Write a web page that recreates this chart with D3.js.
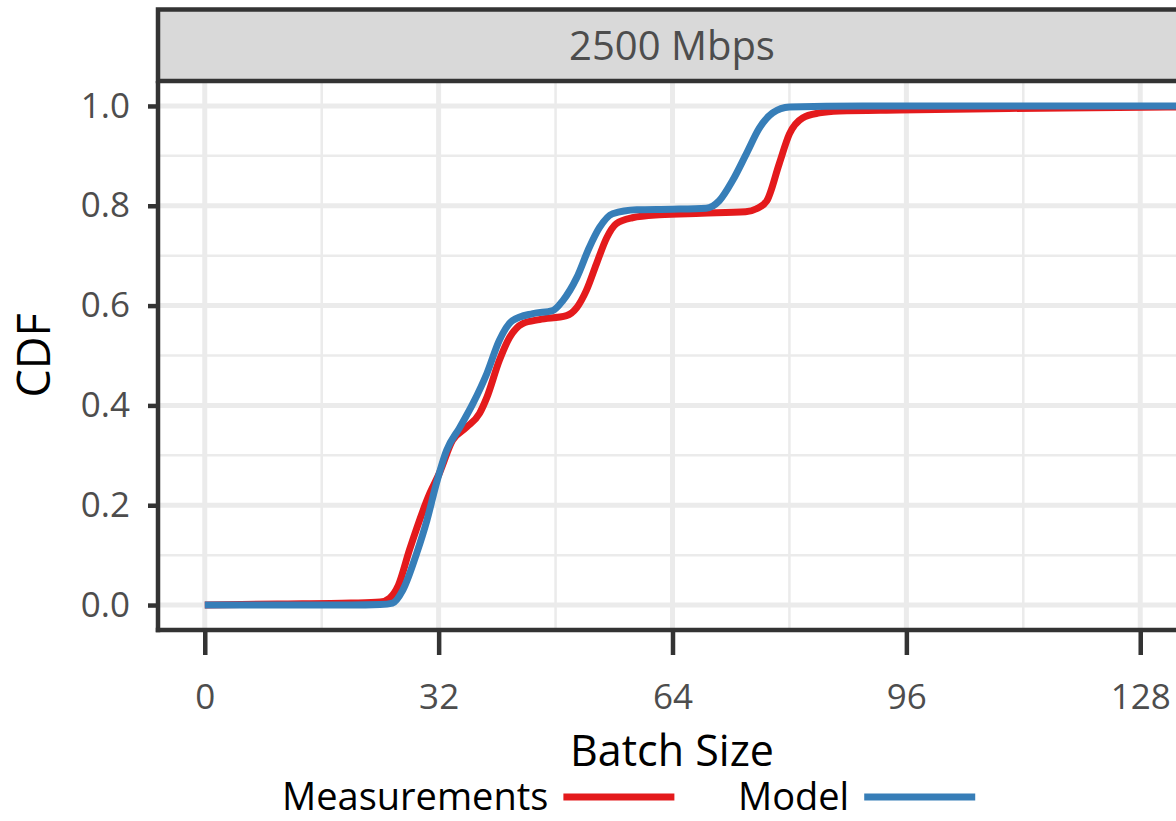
<!DOCTYPE html>
<html>

<head>
  <title>CDF batch size</title>
  <script src="https://cdn.jsdelivr.net/npm/d3@7"></script>
  <style type="text/css">
    body {
      margin: 0;
      background: white;
    }

    text {
      font-family: "Open Sans", "Noto Sans", sans-serif;
    }
  </style>
</head>

<body>
  <div id="chartArea"></div>
  <script type="text/javascript">
    // values
    let measX = [0, 10, 20, 24, 25.3, 26.5, 28, 30.8, 32.1, 33.9, 35.8, 37.6, 38.6, 40.3, 41.7, 43.5, 45.8, 49.5, 50.9, 52.2, 53.6, 55, 56.3, 58.5, 62.2, 68, 74, 75.5, 76.9, 78.6, 80, 81.8, 84.1, 86.8, 95, 110, 125, 134.4];
    let measY = [0, 0.002, 0.004, 0.006, 0.014, 0.04, 0.11, 0.224, 0.264, 0.33, 0.356, 0.384, 0.416, 0.49, 0.536, 0.564, 0.572, 0.58, 0.596, 0.63, 0.684, 0.736, 0.764, 0.776, 0.782, 0.785, 0.788, 0.794, 0.81, 0.884, 0.944, 0.976, 0.986, 0.99, 0.992, 0.995, 0.997, 0.998];

    let modelX = [0, 10, 20, 24, 25.7, 27.1, 29, 30.4, 31.7, 33.1, 34.9, 36.7, 38.6, 40.3, 42.1, 44.9, 47.6, 49, 50.9, 52.6, 54, 55.8, 59.1, 64, 68.6, 70.4, 72.2, 74.1, 75.9, 77.7, 80, 90, 110, 134.4];
    let modelY = [0, 0, 0, 0.001, 0.004, 0.03, 0.104, 0.17, 0.244, 0.31, 0.356, 0.404, 0.464, 0.53, 0.57, 0.584, 0.59, 0.61, 0.656, 0.716, 0.756, 0.784, 0.792, 0.793, 0.795, 0.81, 0.85, 0.904, 0.956, 0.986, 0.998, 1, 1, 1];

    let xTicks = [0, 32, 64, 96, 128];
    let xMinor = [16, 48, 80, 112];
    let yTicks = [0, 0.2, 0.4, 0.6, 0.8, 1.0];
    let yMinor = [0.1, 0.3, 0.5, 0.7, 0.9];

    let seriesNames = ['Measurements', 'Model'];
    let seriesColors = ['#e41a1c', '#377eb8'];
    let stripLabel = '2500 Mbps';

    let W = 1176, H = 821;
    let panel = { left: 158, right: 1187, top: 81, bottom: 630 };

    let xScale = d3.scaleLinear()
      .domain([-6.4, 134.4])
      .range([panel.left, panel.right]);

    let yScale = d3.scaleLinear()
      .domain([-0.05, 1.05])
      .range([panel.bottom, panel.top]);

    let svg = d3.select('#chartArea').append('svg')
      .attr('width', W)
      .attr('height', H);

    // grid
    let grid = svg.append('g');
    grid.selectAll('.vminor').data(xMinor).enter().append('line')
      .attr('x1', d => xScale(d)).attr('x2', d => xScale(d))
      .attr('y1', panel.top).attr('y2', panel.bottom)
      .attr('stroke', '#ebebeb').attr('stroke-width', 2.5);
    grid.selectAll('.hminor').data(yMinor).enter().append('line')
      .attr('y1', d => yScale(d)).attr('y2', d => yScale(d))
      .attr('x1', panel.left).attr('x2', panel.right)
      .attr('stroke', '#ebebeb').attr('stroke-width', 2.5);
    grid.selectAll('.vmajor').data(xTicks).enter().append('line')
      .attr('x1', d => xScale(d)).attr('x2', d => xScale(d))
      .attr('y1', panel.top).attr('y2', panel.bottom)
      .attr('stroke', '#ebebeb').attr('stroke-width', 5);
    grid.selectAll('.hmajor').data(yTicks).enter().append('line')
      .attr('y1', d => yScale(d)).attr('y2', d => yScale(d))
      .attr('x1', panel.left).attr('x2', panel.right)
      .attr('stroke', '#ebebeb').attr('stroke-width', 5);

    // curves
    let line = d3.line()
      .x(d => xScale(d[0]))
      .y(d => yScale(d[1]))
      .curve(d3.curveMonotoneX);

    let series = [
      d3.zip(measX, measY),
      d3.zip(modelX, modelY)
    ];

    svg.selectAll('.curve')
      .data(series)
      .enter()
      .append('path')
      .attr('d', line)
      .attr('fill', 'none')
      .attr('stroke', (d, i) => seriesColors[i])
      .attr('stroke-width', 7)
      .attr('stroke-linejoin', 'round');

    // strip
    svg.append('rect')
      .attr('x', panel.left).attr('y', 9.5)
      .attr('width', panel.right - panel.left + 20).attr('height', panel.top - 9.5)
      .attr('fill', '#d9d9d9')
      .attr('stroke', '#333333').attr('stroke-width', 4.5);
    svg.append('text')
      .attr('x', 672)
      .attr('y', 46)
      .attr('dy', '0.35em')
      .attr('text-anchor', 'middle')
      .attr('fill', '#4d4d4d')
      .style('font-size', '40px')
      .text(stripLabel);

    // axes
    let xAxis = d3.axisBottom(xScale).tickValues(xTicks).tickSize(25).tickPadding(42).tickSizeOuter(0);
    let gx = svg.append('g')
      .attr('transform', `translate(0, ${panel.bottom})`)
      .call(xAxis);
    let yAxis = d3.axisLeft(yScale).tickValues(yTicks).tickSize(10).tickPadding(18)
      .tickFormat(d3.format('.1f')).tickSizeOuter(0);
    let gy = svg.append('g')
      .attr('transform', `translate(${panel.left}, 0)`)
      .call(yAxis);

    [gx, gy].forEach(g => {
      g.select('.domain').remove();
      g.selectAll('line').attr('stroke', '#333333').attr('stroke-width', 4.5);
      g.selectAll('text').attr('fill', '#4d4d4d').style('font-size', '35px');
    });
    gx.selectAll('text').attr('dy', '0.35em');

    svg.append('line')
      .attr('x1', panel.left).attr('x2', panel.left)
      .attr('y1', panel.top).attr('y2', panel.bottom + 2.25)
      .attr('stroke', '#333333').attr('stroke-width', 4.5);
    svg.append('line')
      .attr('x1', panel.left - 2.25).attr('x2', W)
      .attr('y1', panel.bottom).attr('y2', panel.bottom)
      .attr('stroke', '#333333').attr('stroke-width', 4.5);

    // titles
    svg.append('text')
      .attr('x', 672)
      .attr('y', 766)
      .attr('text-anchor', 'middle')
      .attr('fill', 'black')
      .style('font-size', '43px')
      .text('Batch Size');
    svg.append('text')
      .attr('transform', `translate(50, ${(panel.top + panel.bottom) / 2}) rotate(-90)`)
      .attr('text-anchor', 'middle')
      .attr('fill', 'black')
      .style('font-size', '45px')
      .text('CDF');

    // legend
    let legendX = [282, 738];
    let legend = svg.selectAll('.legend')
      .data(seriesNames)
      .enter()
      .append('g')
      .attr('transform', (d, i) => `translate(${legendX[i]}, 0)`);
    legend.append('text')
      .attr('x', 0).attr('y', 810)
      .attr('fill', 'black')
      .style('font-size', '38px')
      .text(d => d);
    legend.each(function (d, i) {
      let g = d3.select(this);
      let tw = g.select('text').node().getComputedTextLength();
      g.append('line')
        .attr('x1', tw + 15).attr('x2', tw + 126)
        .attr('y1', 797).attr('y2', 797)
        .attr('stroke', seriesColors[i]).attr('stroke-width', 7);
    });
  </script>
</body>

</html>
